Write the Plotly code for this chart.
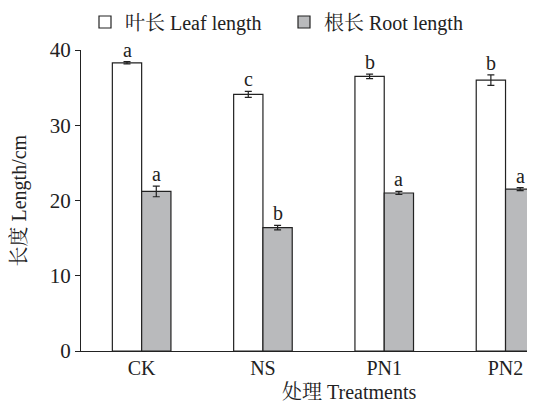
import plotly.graph_objects as go

categories = ["CK", "NS", "PN1", "PN2"]
leaf_length = [38.3, 34.1, 36.5, 36.0]
leaf_err = [0.15, 0.4, 0.3, 0.7]
leaf_letters = ["a", "c", "b", "b"]
root_length = [21.2, 16.4, 21.0, 21.5]
root_err = [0.7, 0.3, 0.2, 0.2]
root_letters = ["a", "b", "a", "a"]

FONT = "Liberation Serif, Noto Serif CJK SC, Noto Sans CJK SC, serif"
INK = "#222"

fig = go.Figure()
fig.add_trace(go.Bar(
    name="叶长 Leaf length", x=categories, y=leaf_length,
    marker=dict(color="white", line=dict(color=INK, width=1.2)),
    error_y=dict(type="data", array=leaf_err, color=INK, thickness=1.2, width=3.5),
))
fig.add_trace(go.Bar(
    name="根长 Root length", x=categories, y=root_length,
    marker=dict(color="#b9babc", line=dict(color=INK, width=1.2)),
    error_y=dict(type="data", array=root_err, color=INK, thickness=1.2, width=3.5),
))

half = 14.6
for i, c in enumerate(categories):
    fig.add_annotation(x=c, y=leaf_length[i] + leaf_err[i], text=leaf_letters[i],
                       xshift=-half, yshift=-1, yanchor="bottom", showarrow=False,
                       font=dict(family=FONT, size=20, color=INK))
    fig.add_annotation(x=c, y=root_length[i] + root_err[i], text=root_letters[i],
                       xshift=half, yshift=-1, yanchor="bottom", showarrow=False,
                       font=dict(family=FONT, size=20, color=INK))

fig.add_annotation(xref="paper", yref="paper", x=(349 - 81) / 454, y=(351 - 392) / 301,
                   text="处理 Treatments", showarrow=False, yanchor="middle",
                   font=dict(family=FONT, size=20, color=INK))
fig.add_annotation(xref="paper", yref="paper", x=(19 - 81) / 454, y=0.5,
                   text="长度 Length/cm", showarrow=False, textangle=-90,
                   xanchor="center", yanchor="middle",
                   font=dict(family=FONT, size=20, color=INK))

fig.update_layout(
    width=535, height=403,
    margin=dict(l=73, r=8, t=42, b=60, autoexpand=False),
    paper_bgcolor="white", plot_bgcolor="white",
    barmode="group", bargap=0.517, bargroupgap=0,
    font=dict(family=FONT, size=20, color=INK),
    showlegend=True,
    legend=dict(orientation="h", x=4 / 454, xref="paper", y=(343 - 14) / 301,
                yref="paper", yanchor="middle", xanchor="left",
                font=dict(family=FONT, size=20, color=INK),
                itemwidth=30, tracegroupgap=0, entrywidth=154),
    xaxis=dict(range=[-0.5, 3.243], showline=True, linecolor=INK, linewidth=1.2,
               ticks="", showgrid=False, ticklabelstandoff=-1,
               tickfont=dict(family=FONT, size=20, color=INK)),
    yaxis=dict(range=[0, 40], showline=True, linecolor=INK, linewidth=1.2,
               ticks="outside", ticklen=5, tickwidth=1.2, tickcolor=INK,
               dtick=10, showgrid=False, zeroline=False,
               tickfont=dict(family=FONT, size=21, color=INK)),
)
for tr in fig.data:
    tr.cliponaxis = False

fig.write_html("out.html")
